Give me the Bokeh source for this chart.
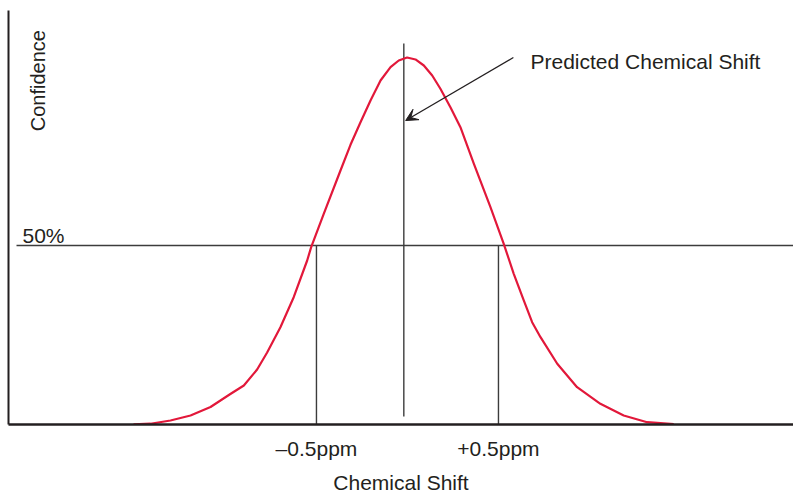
import math
from bokeh.plotting import figure
from bokeh.models import Range1d, FixedTicker, Arrow, VeeHead
from bokeh.core.properties import value
from bokeh.embed import file_html
from bokeh.resources import INLINE

# ---- data ----
shift_ppm = [-1.505, -1.412, -1.302, -1.192, -1.082, -0.973, -0.899, -0.826, -0.771,
             -0.698, -0.625, -0.551, -0.529, -0.460, -0.368, -0.313, -0.258, -0.203,
             -0.148, -0.093, -0.048, -0.002, 0.044, 0.090, 0.136, 0.181, 0.236,
             0.291, 0.364, 0.456, 0.529, 0.584, 0.639, 0.685, 0.731, 0.823,
             0.932, 1.060, 1.188, 1.317, 1.463]
confidence = [0.06, 0.22, 1.12, 2.51, 4.89, 8.52, 10.89, 15.36, 20.11,
              27.18, 35.56, 45.81, 49.55, 58.85, 70.95, 78.13, 84.44, 90.50,
              96.09, 99.80, 101.68, 102.51, 101.96, 100.28, 97.49, 93.77, 88.63,
              83.04, 72.91, 60.70, 50.47, 42.09, 34.64, 28.58, 24.39, 16.96,
              10.42, 5.78, 2.51, 0.64, 0.08]
predicted_shift = -0.02
half_level = 50
tick_positions = [-0.5, 0.5]
tick_labels = ["\u20130.5ppm", "+0.5ppm"]
x_title = "Chemical Shift"
y_title = "Confidence"
half_label = "50%"
annotation = "Predicted Chemical Shift"

X0, X1 = -2.192, 2.121
Y0, Y1 = 0, 115.64

FONT = "Liberation Sans"
INK = "#231F20"
LINE = "#3C3C3C"
RED = "#E2183A"

p = figure(width=793, height=496, output_backend="svg", toolbar_location=None,
           x_range=Range1d(X0, X1), y_range=Range1d(Y0, Y1),
           min_border_left=8, min_border_right=0, min_border_top=10,
           min_border_bottom=72)
p.outline_line_color = None
p.grid.visible = False
p.background_fill_color = "white"
p.border_fill_color = "white"

# axes
xa = p.xaxis[0]
xa.ticker = FixedTicker(ticks=tick_positions)
xa.major_label_overrides = {t: l for t, l in zip(tick_positions, tick_labels)}
xa.major_tick_line_color = None
xa.minor_tick_line_color = None
xa.axis_line_color = INK
xa.axis_line_width = 2.5
xa.major_label_text_font = FONT
xa.major_label_text_font_size = "21px"
xa.major_label_text_color = INK
xa.major_label_standoff = 6
xa.axis_label = x_title
xa.axis_label_text_font = FONT
xa.axis_label_text_font_size = "21px"
xa.axis_label_text_font_style = "normal"
xa.axis_label_text_color = INK
xa.axis_label_standoff = 8

ya = p.yaxis[0]
ya.ticker = FixedTicker(ticks=[])
ya.major_tick_line_color = None
ya.minor_tick_line_color = None
ya.axis_line_color = INK
ya.axis_line_width = 2

# 50% line and the verticals
p.segment(x0=[X0 + 0.044], y0=[half_level], x1=[X1], y1=[half_level],
          line_color=LINE, line_width=1.4)
p.segment(x0=tick_positions, y0=[0, 0], x1=tick_positions, y1=[half_level, half_level],
          line_color=LINE, line_width=1.4)
p.segment(x0=[predicted_shift], y0=[2.2], x1=[predicted_shift], y1=[106.4],
          line_color=LINE, line_width=1.4)

# curve
p.line(shift_ppm, confidence, line_color=RED, line_width=2.2, line_join="round")

# arrow
p.add_layout(Arrow(x_start=0.582, y_start=102.5, x_end=-0.01, y_end=84.9,
                   line_color=INK, line_width=1.3,
                   end=VeeHead(size=12, fill_color=INK, line_color=INK)))

# texts
p.text(x=[0.676], y=[101.4], text=[annotation], text_font=value(FONT),
       text_font_size="21px", text_color=INK, text_baseline="alphabetic",
       text_align="left")
p.text(x=[-2.115], y=[52.8], text=[half_label], text_font=value(FONT),
       text_font_size="21px", text_color=INK, text_baseline="alphabetic",
       text_align="left")
p.text(x=[-2.03], y=[81.9], text=[y_title], text_font=value(FONT),
       text_font_size="20px", text_color=INK, text_baseline="alphabetic",
       text_align="left", angle=math.pi / 2)

open("out.html", "w").write(file_html(p, INLINE))
